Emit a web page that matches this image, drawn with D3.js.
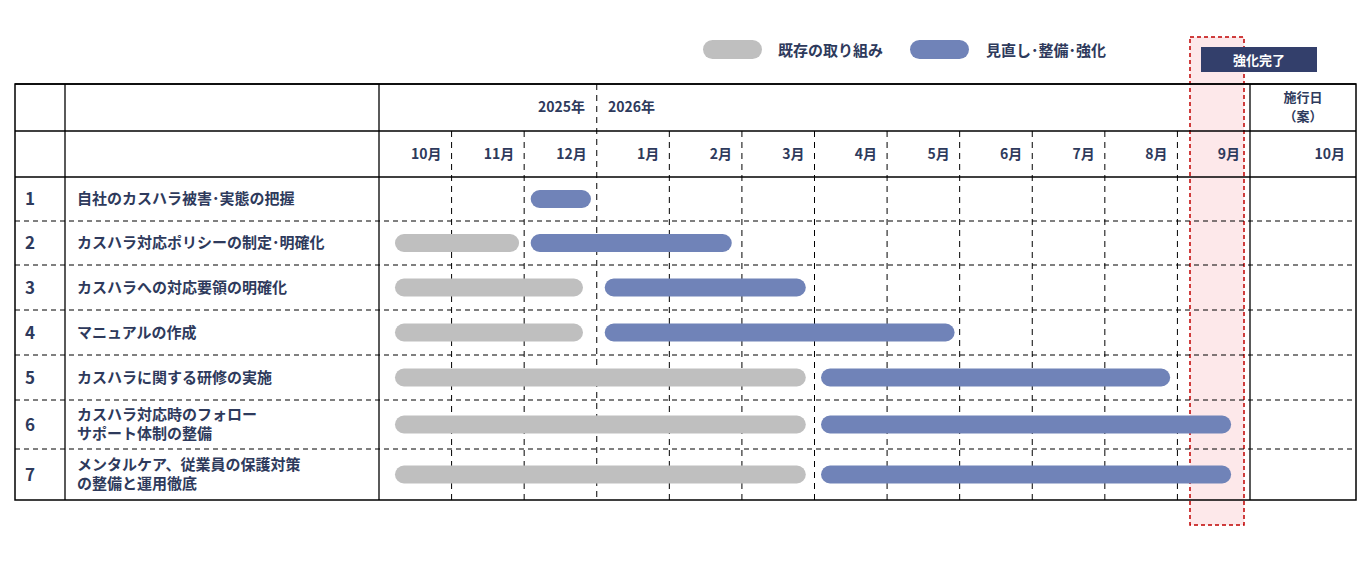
<!DOCTYPE html>
<html><head><meta charset="utf-8">
<script src="https://cdn.jsdelivr.net/npm/d3@7"></script>
<style>body{margin:0;background:#fff}text{font-family:"Noto Sans CJK JP",sans-serif;font-weight:bold;fill:#2e3a5c}</style>
</head><body><svg id="c" width="1372" height="564"></svg>
<script>
var months = ['10月','11月','12月','1月','2月','3月','4月','5月','6月','7月','8月','9月'];
var tasks = ['自社のカスハラ被害･実態の把握','カスハラ対応ポリシーの制定･明確化','カスハラへの対応要領の明確化','マニュアルの作成','カスハラに関する研修の実施','カスハラ対応時のフォロー\nサポート体制の整備','メンタルケア、従業員の保護対策\nの整備と運用徹底'];
// [start, end] in months from Oct 2025
var existing = [null,[0.22,1.93],[0.22,2.81],[0.22,2.81],[0.22,5.88],[0.22,5.88],[0.22,5.88]];
var renewed = [[2.09,2.92],[2.09,4.86],[3.11,5.88],[3.11,7.93],[6.09,10.9],[6.09,11.74],[6.09,11.74]];
var legendLabels = ['既存の取り組み','見直し･整備･強化'];
var colors = ['#bfbfbf','#7083b8'];

var svg = d3.select('#c');
var x = d3.scaleLinear().domain([0,12]).range([379,1250]);
var rowEdges = [177,221,265,310,355,400,449,500];
var L = 15, R = 1356;

// highlight for Sept
svg.append('rect').attr('x',1190).attr('y',37).attr('width',54).attr('height',488)
  .attr('fill','#fde8ea').attr('stroke','#c00000').attr('stroke-width',1.5).attr('stroke-dasharray','4,3');

var g = svg.append('g').attr('stroke','#000').attr('fill','none');
// row dashed separators
rowEdges.slice(1,-1).forEach(y => g.append('line').attr('x1',L).attr('x2',R).attr('y1',y).attr('y2',y).attr('stroke-dasharray','5,4'));
// month dashed lines
d3.range(1,12).forEach(i => g.append('line').attr('x1',x(i)).attr('x2',x(i)).attr('y1',i===3?84:131).attr('y2',500).attr('stroke-dasharray','6,5'));
// solid lines
[[L,84,R,84],[L,131,R,131],[L,177,R,177],[65,84,65,500],[379,84,379,500],[1250,84,1250,500]]
  .forEach(d => g.append('line').attr('x1',d[0]).attr('y1',d[1]).attr('x2',d[2]).attr('y2',d[3]).attr('stroke-width',1.3));
g.append('rect').attr('x',L).attr('y',84).attr('width',R-L).attr('height',416).attr('stroke-width',1.5);

// header texts
svg.append('text').attr('x',585).attr('y',112).attr('text-anchor','end').attr('font-size',14).text('2025年');
svg.append('text').attr('x',608).attr('y',112).attr('font-size',14).text('2026年');
svg.append('text').attr('x',1303).attr('y',102).attr('text-anchor','middle').attr('font-size',13).text('施行日');
svg.append('text').attr('x',1303).attr('y',121).attr('text-anchor','middle').attr('font-size',13).text('（案）');
months.forEach((m,i) => svg.append('text').attr('x',x(i+1)-10).attr('y',159).attr('text-anchor','end').attr('font-size',14).text(m));
svg.append('text').attr('x',1345).attr('y',159).attr('text-anchor','end').attr('font-size',14).text('10月');

// rows
tasks.forEach((t,i) => {
  var cy = (rowEdges[i]+rowEdges[i+1])/2;
  svg.append('text').attr('x',25).attr('y',cy+6).attr('font-size',17).text(i+1);
  var lines = t.split('\n');
  lines.forEach((s,j) => svg.append('text').attr('x',77).attr('y',cy+5+(j-(lines.length-1)/2)*19).attr('font-size',15).text(s));
  [existing[i],renewed[i]].forEach((b,k) => {
    if(!b) return;
    svg.append('rect').attr('x',x(b[0])).attr('y',cy-9).attr('width',x(b[1])-x(b[0])).attr('height',18)
      .attr('rx',9).attr('fill',colors[k]);
  });
});

// legend
[[703,778],[910,986]].forEach((p,k) => {
  svg.append('rect').attr('x',p[0]).attr('y',40).attr('width',59).attr('height',19).attr('rx',9.5).attr('fill',colors[k]);
  svg.append('text').attr('x',p[1]).attr('y',56).attr('font-size',15).text(legendLabels[k]);
});
svg.append('rect').attr('x',1201).attr('y',47).attr('width',116).attr('height',25).attr('fill','#333f6b');
svg.append('text').attr('x',1259).attr('y',65).attr('text-anchor','middle').attr('font-size',13).style('fill','#fff').text('強化完了');
</script></body></html>
